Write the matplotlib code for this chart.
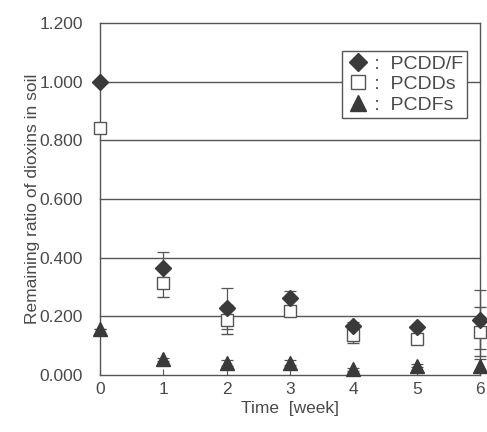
import matplotlib
matplotlib.use("Agg")
import matplotlib.pyplot as plt
from matplotlib.lines import Line2D

plt.rcParams['font.family'] = ['Liberation Sans', 'DejaVu Sans']

weeks = [0, 1, 2, 3, 4, 5, 6]
pcddf = [1.000, 0.364, 0.227, 0.261, 0.167, 0.163, 0.188]
pcddf_err = [0.0, 0.054, 0.071, 0.025, 0.015, 0.008, 0.100]
pcdds = [0.841, 0.315, 0.188, 0.219, 0.136, 0.122, 0.148]
pcdds_err = [0.0, 0.050, 0.049, 0.010, 0.028, 0.010, 0.083]
pcdfs = [0.156, 0.054, 0.040, 0.042, 0.019, 0.032, 0.032]
pcdfs_err = [0.0, 0.005, 0.010, 0.008, 0.005, 0.005, 0.021]

yticks = [0.0, 0.2, 0.4, 0.6, 0.8, 1.0, 1.2]
ytick_labels = ["0.000", "0.200", "0.400", "0.600", "0.800", "1.000", "1.200"]
legend_labels = [' :  PCDD/F', ' :  PCDDs', ' :  PCDFs']

dark = '#3a3a3a'
txt = '#4a4a4a'

fig = plt.figure(figsize=(4.87, 4.32), dpi=100)
ax = fig.add_axes([0.205, 0.132, 0.781, 0.815])

for y in yticks[1:-1]:
    ax.axhline(y, color='#555555', lw=1.0, zorder=1)

ekw = dict(ecolor='#555555', elinewidth=0.9, capsize=4, capthick=0.9, linestyle='none', zorder=3)
ax.errorbar(weeks, pcdds, yerr=pcdds_err, marker='s', ms=9, mfc='white', mec='#555555', mew=1.0, **ekw)
ax.errorbar(weeks, pcddf, yerr=pcddf_err, marker='D', ms=8, mfc=dark, mec=dark, **ekw)
ax.errorbar(weeks, pcdfs, yerr=pcdfs_err, marker='^', ms=10, mfc=dark, mec=dark, **ekw)

ax.set_xlim(0, 6)
ax.set_ylim(0, 1.2)
ax.set_xticks(weeks)
ax.set_yticks(yticks)
ax.set_yticklabels(ytick_labels)
ax.tick_params(axis='x', direction='in', length=4, color='#555555', labelsize=12.5, labelcolor=txt, pad=5)
ax.tick_params(axis='y', length=0, labelsize=12.5, labelcolor=txt, pad=12)
for s in ax.spines.values():
    s.set_color('#555555')
    s.set_linewidth(1.0)
    s.set_zorder(2)
for a in ax.collections + ax.lines:
    a.set_clip_on(False)

ax.set_xlabel('Time  [week]', fontsize=12.5, color=txt, labelpad=3)
ax.set_ylabel('Remaining ratio of dioxins in soil', fontsize=12.5, color=txt, labelpad=0)

handles = [
    Line2D([], [], linestyle='none', marker='D', ms=9, mfc=dark, mec=dark),
    Line2D([], [], linestyle='none', marker='s', ms=10, mfc='white', mec='#555555', mew=1.0),
    Line2D([], [], linestyle='none', marker='^', ms=11, mfc=dark, mec=dark),
]
leg = ax.legend(handles, legend_labels, loc='upper right',
                bbox_to_anchor=(0.966, 0.92), fancybox=False, framealpha=1,
                edgecolor='#555555', handlelength=1.2, handletextpad=0.0,
                borderpad=0.2, labelspacing=0.15, borderaxespad=0,
                prop={'family': 'Liberation Sans', 'size': 14})
for t in leg.get_texts():
    t.set_color(txt)
leg.get_frame().set_linewidth(1.0)

fig.savefig('out.png', dpi=100)
